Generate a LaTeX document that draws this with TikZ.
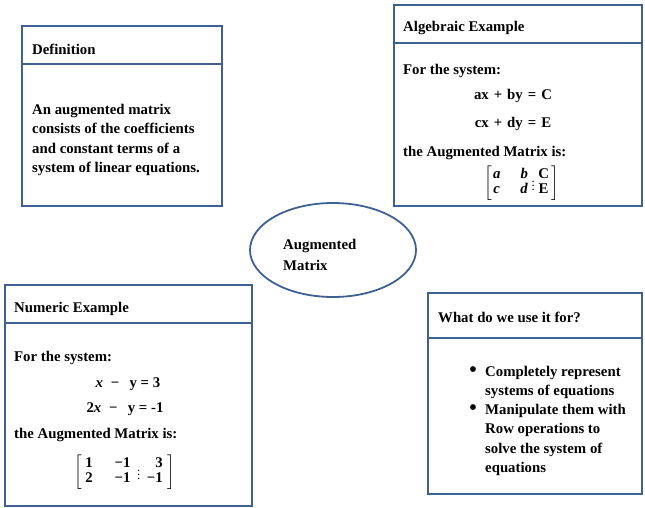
\documentclass[tikz,border=0pt]{standalone}
\usepackage{amsmath}
\usepackage{fontspec}
\setmainfont{Liberation Serif}
\usetikzlibrary{shapes.geometric}
\definecolor{frameblue}{RGB}{62,96,146}
\newcommand{\boldtext}{\bfseries\fontsize{14.8}{19.5}\selectfont}
\newcommand{\opgap}{\hspace{5pt}}
\newcommand{\matdots}[1]{\hspace{#1}\vcenter{\hbox{\small$\vdots$}}\hspace{#1}}
\tikzset{panel/.style={draw=frameblue,line width=1.8pt,anchor=north west,inner sep=0pt},
  headtext/.style={anchor=base west,inner sep=0pt,font=\boldtext},
  bodytext/.style={anchor=north west,inner sep=0pt,align=left,font=\boldtext},
  linetext/.style={anchor=base west,inner sep=0pt,font=\boldtext},
  eqtext/.style={anchor=base,inner sep=0pt,font=\boldtext},
  mattext/.style={anchor=center,inner sep=0pt,font=\boldtext},
  dot/.style={font=\fontsize{24}{24}\selectfont,inner sep=0pt}}

\begin{document}
\begin{tikzpicture}[x=1pt,y=-1pt]
\useasboundingbox (0,0) rectangle (645,507);
% definition
\node[panel,minimum width=200,minimum height=38] (defhead) at (21,25) {};
\node[panel,minimum width=200,minimum height=142] (defbody) at (21,63) {};
\node[headtext] (deftitle) at (32,54) {Definition};
\node[bodytext] (deftext) at (32,104) {An augmented matrix\\consists of the coefficients\\and constant terms of a\\system of linear equations.};
% algebraic example
\node[panel,minimum width=248,minimum height=38] (alghead) at (393,4) {};
\node[panel,minimum width=248,minimum height=163] (algbody) at (393,42) {};
\node[headtext] (algtitle) at (403,31) {Algebraic Example};
\node[linetext] (algfor) at (403,74) {For the system:};
\node[eqtext] (algeqa) at (513,99) {ax\opgap+\opgap by\opgap=\opgap C};
\node[eqtext] (algeqb) at (513,127) {cx\opgap+\opgap dy\opgap=\opgap E};
\node[linetext] (algis) at (403,156) {the Augmented Matrix is:};
\node[mattext] (algmat) at (522,183) {\renewcommand\arraystretch{0.75}%
  $\left[\begin{array}{@{\hspace{1pt}}c@{\hspace{20pt}}c@{}}\text{\textit{a}} & \text{\textit{b}}\\ \text{\textit{c}} & \text{\textit{d}}\end{array}
  \matdots{4pt}
  \begin{array}{@{}c@{\hspace{3pt}}}\text{C}\\ \text{E}\end{array}\right]$};
% numeric example
\node[panel,minimum width=247,minimum height=38] (numhead) at (4,284) {};
\node[panel,minimum width=247,minimum height=183] (numbody) at (4,322) {};
\node[headtext] (numtitle) at (14,312) {Numeric Example};
\node[linetext] (numfor) at (14,361) {For the system:};
\node[eqtext] (numeqa) at (128,387) {\textit{x} \;−\;\, y = 3};
\node[eqtext] (numeqb) at (125,412) {2\textit{x} \;−\;\, y = -1};
\node[linetext] (numis) at (14,438) {the Augmented Matrix is:};
\node[mattext] (nummat) at (125,472) {\renewcommand\arraystretch{0.8}%
  $\left[\begin{array}{@{\hspace{3pt}}c@{\hspace{22pt}}c@{}}\text{1} & \text{−1}\\ \text{2} & \text{−1}\end{array}
  \matdots{7pt}
  \begin{array}{@{}r@{\hspace{5pt}}}\text{3}\\ \text{−1}\end{array}\right]$};
% uses
\node[panel,minimum width=214,minimum height=45] (usehead) at (427,292) {};
\node[panel,minimum width=214,minimum height=156] (usebody) at (427,337) {};
\node[headtext] (usetitle) at (438,322) {What do we use it for?};
\node[bodytext] (useone) at (485,366) {Completely represent\\systems of equations};
\node[bodytext] (usetwo) at (485,404) {Manipulate them with\\Row operations to\\solve the system of\\equations};
\node[dot] (bulletone) at (473,372) {\textbullet};
\node[dot] (bullettwo) at (473,410) {\textbullet};
% centre
\node[ellipse,draw=frameblue,line width=1.8pt,minimum width=166,minimum height=94] (hub) at (333,250) {};
\node[bodytext,align=left] (hubtext) at (283,239) {Augmented\\[1.5pt]Matrix};
\end{tikzpicture}
\end{document}
